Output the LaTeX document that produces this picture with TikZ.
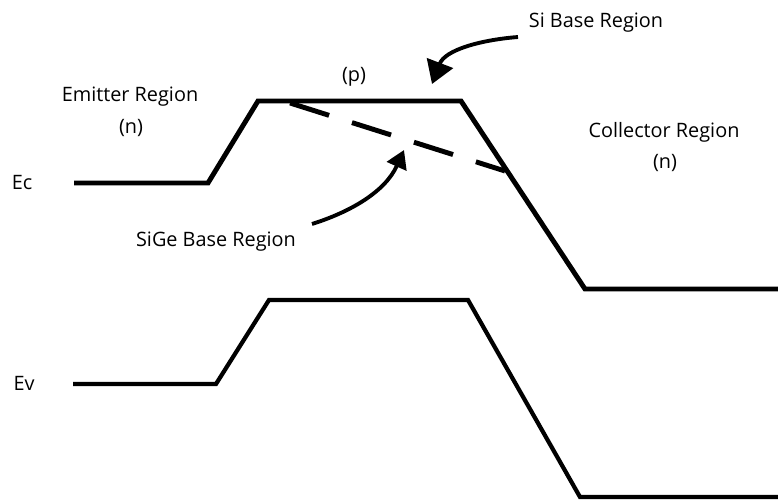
\documentclass[tikz,border=0pt]{standalone}
\usepackage{fontspec}
\setmainfont{Open Sans}
\usetikzlibrary{arrows.meta}

\begin{document}
\begin{tikzpicture}[x=0.02cm,y=-0.02cm,
    band/.style={line width=2.8pt, line join=miter},
    lbl/.style={font=\fontsize{11.3}{13}\selectfont, inner sep=0pt},
    pointer/.style={line width=2.2pt, -{Triangle[length=0.45cm,width=0.55cm]}}]
                \useasboundingbox (0,0) rectangle (778,500);

                % Labels
                \node[lbl] (ec) at (22,183) {Ec};
                \node[lbl] (ev) at (24,383) {Ev};
                \node[lbl] (emitter) at (130,97) {Emitter Region};
                \node[lbl] (emittern) at (131,128) {(n)};
                \node[lbl] (base) at (354,77) {(p)};
                \node[lbl] (collector) at (664,132) {Collector Region};
                \node[lbl] (collectorn) at (665,163) {(n)};
                \node[lbl] (sige) at (216,242) {SiGe Base Region};
                \node[lbl] (si) at (596,23) {Si Base Region};

                % conduction band
                \draw[band] (74,183)--(208,183)--(258,101)--(461,101)--(585,289)--(778,289);
                % valence band
                \draw[band, line width=2.4pt] (73,384)--(216,384)--(269,300)--(468,300)--(580,497)--(778,497);

                % graded SiGe band edge
                \draw[band, dash pattern=on 0.82cm off 0.48cm] (290,103)--(505,171);

                % pointers
                \coordinate (sitail) at (518,37);
                \coordinate (sitip) at (432,84);
                \coordinate (sigetail) at (312,224);
                \coordinate (sigetip) at (404,150);
                \draw[pointer] (sitail) .. controls (480,40) and (445,50) .. (sitip);
                \draw[pointer, -{Triangle[length=0.36cm,width=0.42cm]}] (sigetail) .. controls (350,212) and (385,192) .. (sigetip);
            \end{tikzpicture}
\end{document}
